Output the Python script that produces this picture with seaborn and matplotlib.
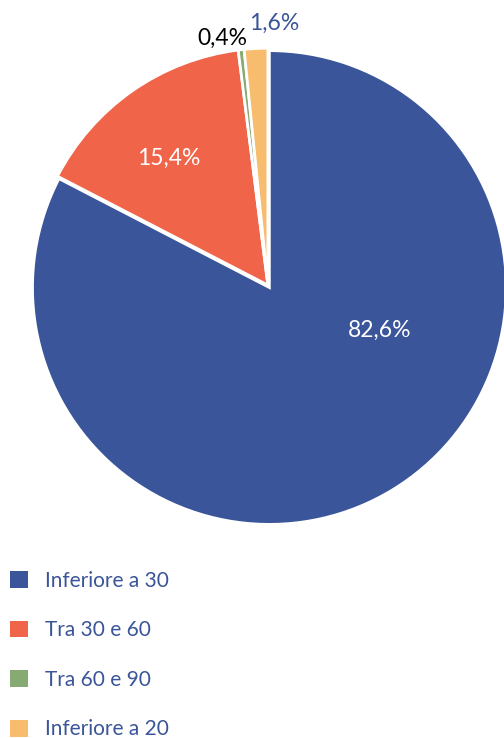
import matplotlib
matplotlib.use("Agg")
import matplotlib.pyplot as plt
import seaborn as sns
from matplotlib.patches import Patch

categories = ["Inferiore a 30", "Tra 30 e 60", "Tra 60 e 90", "Inferiore a 20"]
values = [82.6, 15.4, 0.4, 1.6]
pct_labels = ["82,6%", "15,4%", "0,4%", "1,6%"]
colors = ["#3A5599", "#F0654A", "#86AA72", "#F8BC6E"]

sns.set_theme(style="white")
plt.rcParams["font.family"] = ["Lato", "DejaVu Sans"]

fig = plt.figure(figsize=(5.04, 7.38), dpi=100)
ax = fig.add_axes([0.0615, 0.2927, 0.940, 0.642])

wedges, _ = ax.pie(values, colors=colors, startangle=90, counterclock=False,
                   explode=[0.012, 0, 0, 0],
                   wedgeprops=dict(edgecolor="white", linewidth=2.0))
ax.set_xlim(-1.0, 1.0)
ax.set_ylim(-1.0, 1.0)
ax.set_aspect("equal")
ax.axis("off")

label_pos = [(0.473, -0.19), (-0.42, 0.536), (-0.194, 1.04), (0.025, 1.105)]
label_col = ["white", "white", "black", "#3A5599"]
for (x, y), t, c in zip(label_pos, pct_labels, label_col):
    ax.text(x, y, t, ha="center", va="center", fontsize=16.5, color=c)

handles = [Patch(facecolor=c, edgecolor="none") for c in colors]
leg = fig.legend(handles, categories, loc="upper left",
                 bbox_to_anchor=(0.004, 0.238), frameon=False,
                 fontsize=15, handlelength=0.86, handleheight=0.86,
                 handletextpad=0.8, labelspacing=1.42, borderaxespad=0)
for t in leg.get_texts():
    t.set_color("#3A5599")

fig.savefig("out.png", dpi=100)
